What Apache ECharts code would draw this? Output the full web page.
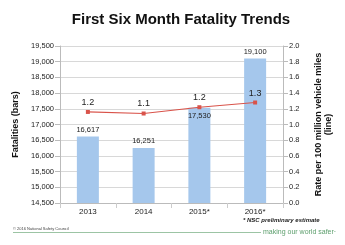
<!DOCTYPE html>
<html>
<head>
<meta charset="utf-8">
<script src="https://cdn.jsdelivr.net/npm/echarts@6/dist/echarts.min.js"></script>
<style>
html, body { margin: 0; padding: 0; background: #fff; }
#chart01 { width: 345px; height: 245px; }
</style>
</head>
<body>
<div id="chart01"></div>
<script>
var years = ['2013', '2014', '2015*', '2016*'];
var fatalities = [16617, 16251, 17530, 19100];
var rates = [1.16, 1.14, 1.22, 1.28];
var leftTicks = [14500, 19500, 500];
var rightTicks = [0, 2.0, 0.2];

var myChart = echarts.init(document.getElementById('chart01'));
var font = 'Liberation Sans, Arial, sans-serif';

// the 2015 bar label sits just inside the bar top, under the line point
var barData = fatalities.map(function (v, i) {
    if (i === 2) {
        return { value: v, label: { position: 'insideTop', distance: 4 } };
    }
    return v;
});

option = {
    animation: false,
    title: {
        text: 'First Six Month Fatality Trends',
        left: 176,
        textAlign: 'center',
        top: 7,
        textStyle: { fontSize: 15, fontWeight: 'bold', color: '#111', fontFamily: font }
    },
    grid: {
        left: 60,
        right: 62,
        top: 46,
        bottom: 42
    },
    xAxis: {
        type: 'category',
        data: years,
        axisLine: { lineStyle: { color: '#bbb' } },
        axisTick: { show: true, lineStyle: { color: '#ccc' } },
        axisLabel: { color: '#222', fontSize: 8, fontFamily: font, margin: 5 }
    },
    yAxis: [
        {
            type: 'value',
            min: leftTicks[0],
            max: leftTicks[1],
            interval: leftTicks[2],
            name: 'Fatalities (bars)',
            nameLocation: 'middle',
            nameGap: 37,
            nameTextStyle: { fontSize: 9, fontWeight: 'bold', color: '#111', fontFamily: font },
            axisLine: { show: true, lineStyle: { color: '#bbb' } },
            axisTick: { show: true, lineStyle: { color: '#bbb' } },
            axisLabel: {
                color: '#222', fontSize: 7.5, fontFamily: font, margin: 6,
                formatter: function (v) { return v.toLocaleString('en-US'); }
            },
            splitLine: { lineStyle: { color: '#d8d8d8' } }
        },
        {
            type: 'value',
            min: rightTicks[0],
            max: rightTicks[1],
            interval: rightTicks[2],
            name: 'Rate per 100 million vehicle miles\n(line)',
            nameLocation: 'middle',
            nameGap: 31,
            nameRotate: 90,
            nameTextStyle: { fontSize: 9, fontWeight: 'bold', color: '#111', fontFamily: font, lineHeight: 10 },
            axisLine: { show: true, lineStyle: { color: '#bbb' } },
            axisTick: { show: true, lineStyle: { color: '#bbb' } },
            axisLabel: {
                color: '#222', fontSize: 7.5, fontFamily: font, margin: 6,
                formatter: function (v) { return v.toFixed(1); }
            },
            splitLine: { show: false }
        }
    ],
    series: [
        {
            name: 'Fatalities',
            type: 'bar',
            data: barData,
            barWidth: 22,
            itemStyle: { color: '#a5c7ec' },
            label: {
                show: true,
                position: 'top',
                distance: 3,
                fontSize: 7.5,
                color: '#222',
                fontFamily: font,
                formatter: function (p) { return p.value.toLocaleString('en-US'); }
            }
        },
        {
            name: 'Rate',
            type: 'line',
            yAxisIndex: 1,
            data: rates,
            symbol: 'rect',
            symbolSize: 4,
            lineStyle: { color: '#d9534a', width: 1.2 },
            itemStyle: { color: '#d9534a' },
            label: {
                show: true,
                position: 'top',
                distance: 3,
                fontSize: 9,
                color: '#222',
                fontFamily: font,
                formatter: function (p) { return p.value.toFixed(1); }
            }
        }
    ],
    graphic: [
        {
            type: 'text', left: 243, top: 217,
            style: { text: '* NSC preliminary estimate', font: 'italic bold 6px ' + font, fill: '#222' }
        },
        {
            type: 'text', left: 13, top: 227,
            style: { text: '\u00a9 2016 National Safety Council', font: '4px ' + font, fill: '#444' }
        },
        {
            type: 'line', shape: { x1: 13, y1: 232.5, x2: 261, y2: 232.5 },
            style: { stroke: '#9cc4a4', lineWidth: 1 }
        },
        {
            type: 'text', left: 263, top: 229,
            style: { text: 'making our world safer\u00b7', font: '7px ' + font, fill: '#5c9e6c' }
        }
    ]
};
if (option && typeof option === "object") {
    myChart.setOption(option, true);
}
</script>
</body>
</html>
